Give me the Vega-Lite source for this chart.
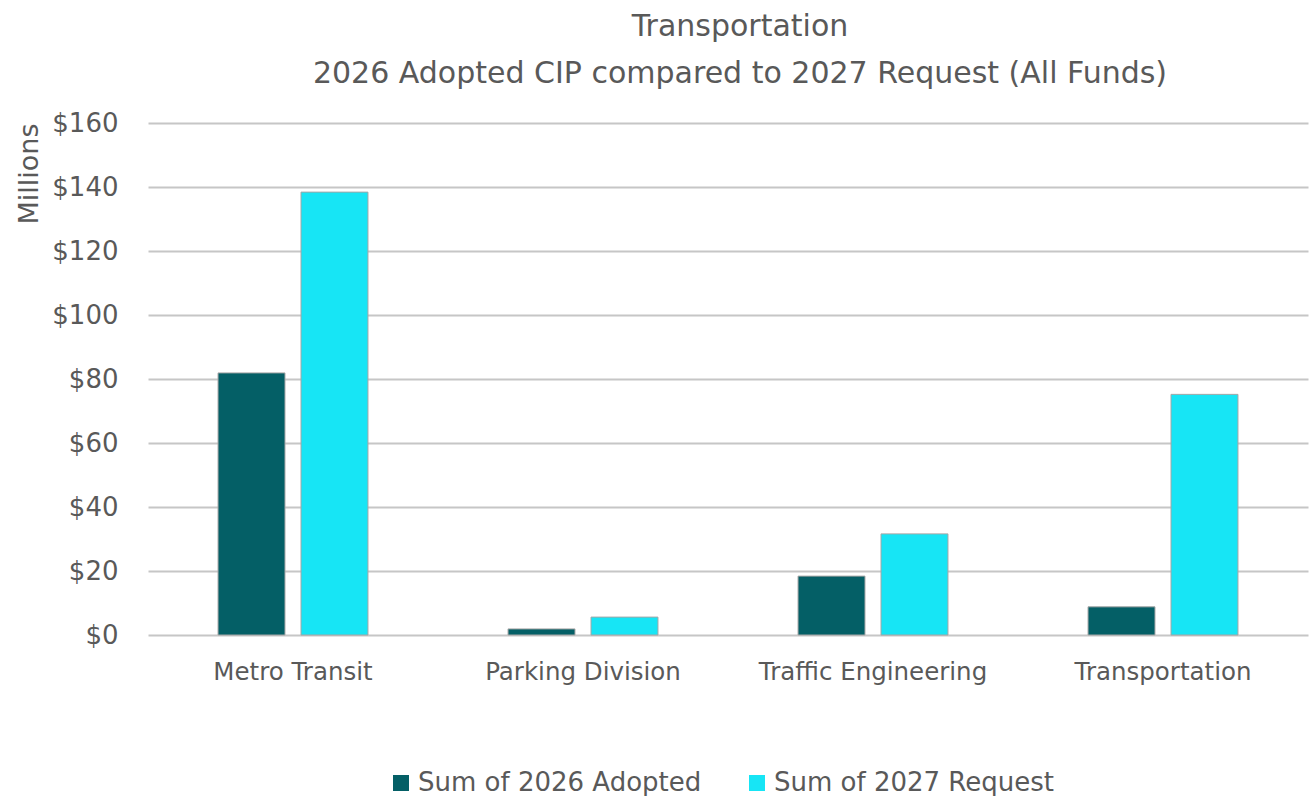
{
  "$schema": "https://vega.github.io/schema/vega-lite/v6.json",
  "width": 1160,
  "height": 512,
  "autosize": {"type": "none"},
  "padding": {"left": 148, "top": 123, "right": 7, "bottom": 161},
  "background": "white",
  "config": {
    "font": "DejaVu Sans",
    "view": {"stroke": null}
  },
  "title": {
    "text": ["Transportation", "2026 Adopted CIP compared to 2027 Request (All Funds)"],
    "fontSize": 30,
    "fontWeight": "normal",
    "color": "#595959",
    "lineHeight": 47,
    "anchor": "middle",
    "offset": 21,
    "dx": 12
  },
  "data": {
    "values": [
      {"division": "Metro Transit", "series": "Sum of 2026 Adopted", "value": 81.9},
      {"division": "Metro Transit", "series": "Sum of 2027 Request", "value": 138.4},
      {"division": "Parking Division", "series": "Sum of 2026 Adopted", "value": 1.9},
      {"division": "Parking Division", "series": "Sum of 2027 Request", "value": 5.6},
      {"division": "Traffic Engineering", "series": "Sum of 2026 Adopted", "value": 18.4},
      {"division": "Traffic Engineering", "series": "Sum of 2027 Request", "value": 31.6},
      {"division": "Transportation", "series": "Sum of 2026 Adopted", "value": 8.8},
      {"division": "Transportation", "series": "Sum of 2027 Request", "value": 75.2}
    ]
  },
  "mark": {"type": "bar", "stroke": "#A6A6A6", "strokeWidth": 1},
  "encoding": {
    "x": {
      "field": "division",
      "type": "nominal",
      "sort": null,
      "scale": {"paddingInner": 0, "paddingOuter": 0},
      "axis": {
        "title": null,
        "labelAngle": 0,
        "labelFontSize": 24.5,
        "labelColor": "#595959",
        "labelPadding": 25,
        "labelLimit": 400,
        "ticks": false,
        "domain": false,
        "grid": false
      }
    },
    "xOffset": {
      "field": "series",
      "type": "nominal",
      "scale": {"paddingInner": 0.193, "paddingOuter": 0.844}
    },
    "y": {
      "field": "value",
      "type": "quantitative",
      "scale": {"domain": [0, 160]},
      "axis": {
        "values": [0, 20, 40, 60, 80, 100, 120, 140, 160],
        "labelExpr": "'$' + datum.value",
        "labelFontSize": 26,
        "labelColor": "#595959",
        "labelPadding": 30,
        "ticks": false,
        "domain": false,
        "grid": true,
        "gridColor": "#C6C6C6",
        "gridWidth": 2,
        "title": "Millions",
        "titleFontSize": 27,
        "titleFontWeight": "normal",
        "titleColor": "#595959",
        "titleAnchor": "end",
        "titlePadding": 8
      }
    },
    "color": {
      "field": "series",
      "type": "nominal",
      "scale": {
        "domain": ["Sum of 2026 Adopted", "Sum of 2027 Request"],
        "range": ["#045F66", "#17E5F5"]
      },
      "legend": {
        "title": null,
        "orient": "none",
        "legendX": 240,
        "legendY": 647,
        "direction": "horizontal",
        "symbolType": "square",
        "symbolSize": 256,
        "symbolStrokeWidth": 0,
        "labelFontSize": 26,
        "labelColor": "#595959",
        "labelLimit": 500,
        "columnPadding": 42,
        "labelOffset": 4
      }
    }
  }
}
